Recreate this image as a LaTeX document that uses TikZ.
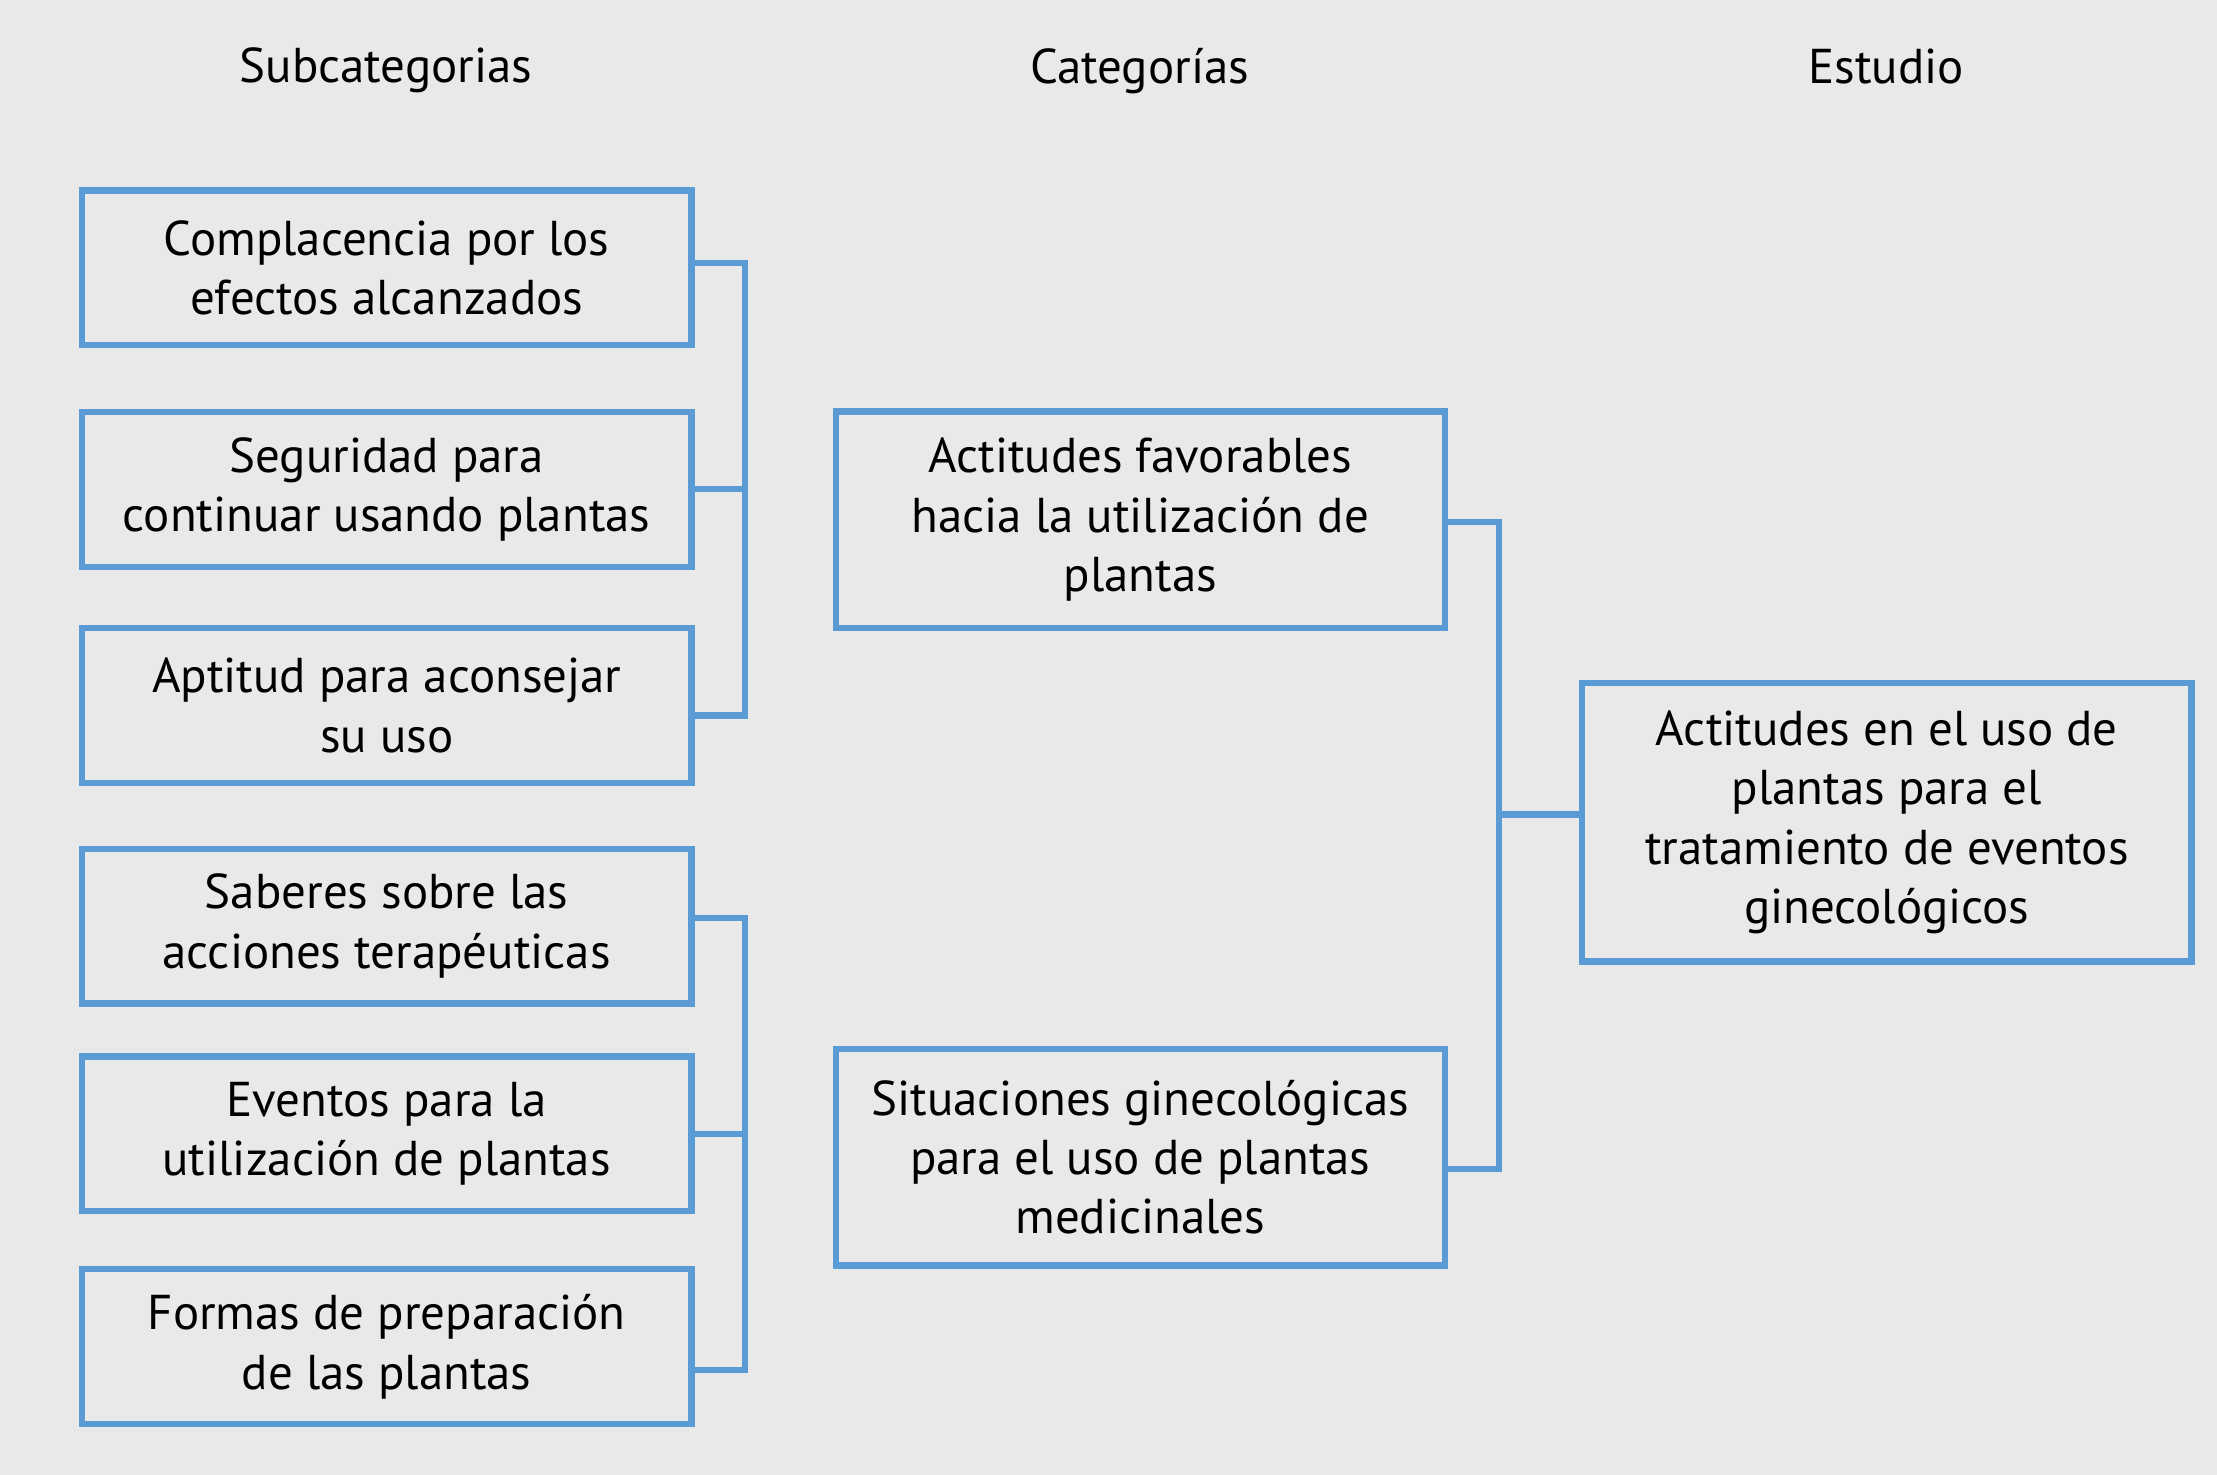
\documentclass[tikz,border=0pt]{standalone}
\usepackage{fontspec}
\setmainfont{PT Sans}
\definecolor{boxblue}{HTML}{5B9BD5}
\definecolor{paper}{HTML}{E9E9E9}

\begin{document}
\begin{tikzpicture}[x=0.5pt,y=-0.5pt,font=\fontsize{17.3}{21}\selectfont,
  box/.style={draw=boxblue,line width=2.2pt,align=center,inner sep=0pt,minimum width=215.5pt},
  link/.style={draw=boxblue,line width=2.2pt}]
\fill [paper] (0,0) rectangle (1568,1043);
\useasboundingbox (0,0) rectangle (1568,1043);
% column titles
\node (tsub) at (273,50) {Subcategorias};
\node (tcat) at (806,50) {Categorías};
\node (test) at (1334,47) {Estudio};
% subcategories
\node [box,minimum height=54.75pt] (sub1) at (273.5,189.5) {Complacencia por los\\efectos alcanzados};
\node [box,minimum height=54.75pt] (sub2) at (273.5,346) {Seguridad para\\continuar usando plantas};
\node [box,minimum height=54.75pt] (sub3) at (273.5,499) {Aptitud para aconsejar\\su uso};
\node [box,minimum height=54.75pt] (sub4) at (273.5,655) {Saberes sobre las\\acciones terapéuticas};
\node [box,minimum height=54.75pt] (sub5) at (273.5,802) {Eventos para la\\utilización de plantas};
\node [box,minimum height=54.75pt] (sub6) at (273.5,952.5) {Formas de preparación\\de las plantas};
% categories
\node [box,minimum height=76.5pt] (catA) at (806.5,367.5) {Actitudes favorables\\hacia la utilización de\\plantas};
\node [box,minimum height=76.5pt] (catB) at (806.5,818.5) {Situaciones ginecológicas\\para el uso de plantas\\medicinales};
% study
\node [box,minimum height=98.5pt] (est) at (1334.5,581.5) {Actitudes en el uso de\\plantas para el\\tratamiento de eventos\\ginecológicos};
% brackets
\coordinate (ja) at (527,186);
\coordinate (jb) at (527,506);
\coordinate (jc) at (527,649);
\coordinate (jd) at (527,969);
\coordinate (ka) at (1060,369);
\coordinate (kb) at (1060,827);
\coordinate (km) at (1060,576);
\draw [link] (sub1.east |- ja) -- (ja) -- (jb) -- (sub3.east |- jb);
\draw [link] (sub2.east) -- (sub2.east -| ja);
\draw [link] (sub4.east |- jc) -- (jc) -- (jd) -- (sub6.east |- jd);
\draw [link] (sub5.east) -- (sub5.east -| jc);
\draw [link] (catA.east |- ka) -- (ka) -- (kb) -- (catB.east |- kb);
\draw [link] (km) -- (est.west |- km);
\end{tikzpicture}
\end{document}
